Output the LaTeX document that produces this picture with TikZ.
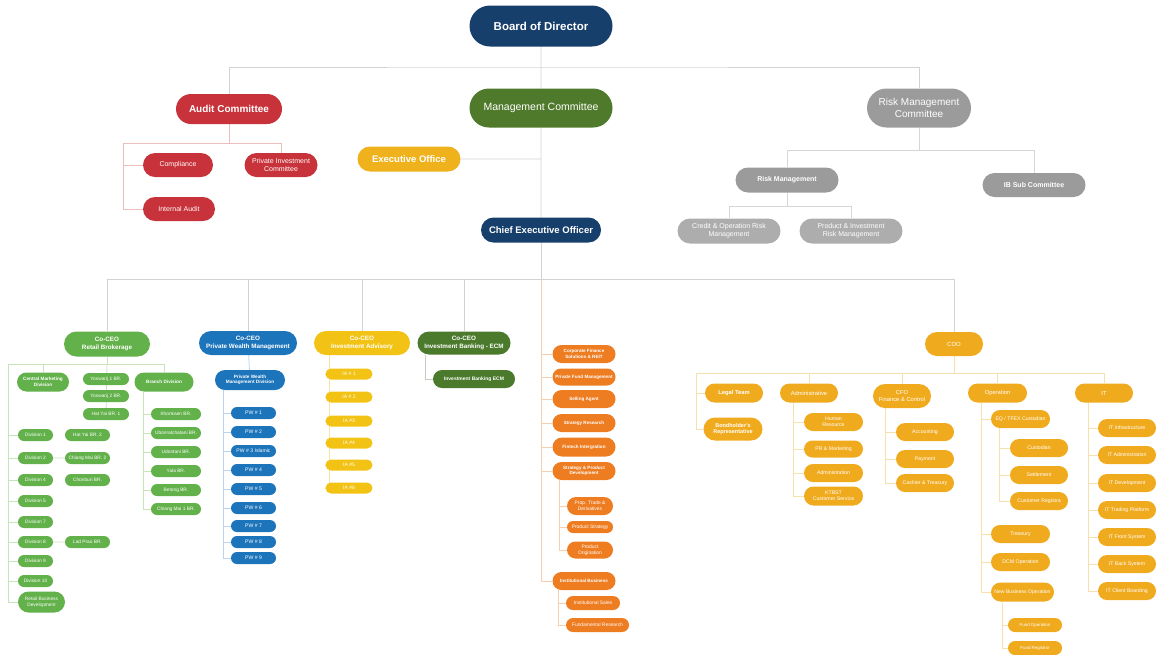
\documentclass[tikz,border=0pt]{standalone}
\usepackage{fontspec}
\setmainfont{Liberation Sans}
\usetikzlibrary{shapes.misc,backgrounds}
\definecolor{bodnavy}{HTML}{173F6C}
\definecolor{mcgreen}{HTML}{4F7A2B}
\definecolor{auditred}{HTML}{C8323A}
\definecolor{riskgray}{HTML}{9B9B9B}
\definecolor{risklight}{HTML}{ADADAD}
\definecolor{execyel}{HTML}{F0B21C}
\definecolor{rbgreen}{HTML}{62B14A}
\definecolor{pwblue}{HTML}{1C74BB}
\definecolor{iayel}{HTML}{F2C314}
\definecolor{ibgreen}{HTML}{4B7A2C}
\definecolor{strorange}{HTML}{EE7D22}
\definecolor{cooyel}{HTML}{F0AA1E}
\definecolor{lngray}{HTML}{D2D2D2}
\definecolor{adtint}{HTML}{EBBDBD}
\definecolor{rktint}{HTML}{D6D6D6}
\definecolor{rbtint}{HTML}{C8E4BB}
\definecolor{pwtint}{HTML}{BAD4EE}
\definecolor{iatint}{HTML}{F8E4A2}
\definecolor{ibtint}{HTML}{C6CDBE}
\definecolor{ortint}{HTML}{F6CFAE}
\definecolor{cotint}{HTML}{F6E0AE}
\tikzset{
  pill/.style={rounded rectangle, fill=#1, text=white, inner sep=0pt, align=center},
  sz/.style 2 args={minimum width=#1pt, minimum height=#2pt},
  fnt/.style 2 args={font=\fontsize{#1}{#2}\selectfont},
  fntb/.style 2 args={font=\fontsize{#1}{#2}\selectfont\bfseries},
  link/.style={draw=#1, line width=0.8pt},
}
\begin{document}
\begin{tikzpicture}[x=1pt, y=-1pt]
\useasboundingbox (0,0) rectangle (1156,654);
% board and committees
\node[pill=bodnavy, sz={143}{41}, fntb={11.5}{13}] (bod) at (541,26) {Board of Director};
\node[pill=mcgreen, sz={143}{39}, fnt={10.5}{12}] (mc) at (541,108) {Management Committee};
\node[pill=auditred, sz={106}{30}, fntb={10}{12}] (ac) at (229,109) {Audit Committee};
\node[pill=riskgray, sz={104}{39}, fnt={10}{12}] (rmc) at (919,108) {Risk Management\\Committee};
\node[pill=auditred, sz={70}{24}, fnt={7}{8}] (comp) at (178,165) {Compliance};
\node[pill=auditred, sz={73}{24}, fnt={7}{8}] (pic) at (281,165) {Private Investment\\Committee};
\node[pill=auditred, sz={72}{24}, fnt={7}{8}] (intaudit) at (179,209) {Internal Audit};
\node[pill=execyel, sz={103}{25}, fntb={9.5}{11}] (eo) at (409,159) {Executive Office};
\node[pill=bodnavy, sz={120}{25}, fntb={9.5}{11}] (ceo) at (541,230) {Chief Executive Officer};
\node[pill=riskgray, sz={103}{25}, fntb={7}{8}] (rm) at (787,180) {Risk Management};
\node[pill=riskgray, sz={103}{24}, fntb={7}{8}] (ibsc) at (1034,185) {IB Sub Committee};
\node[pill=risklight, sz={103}{25}, fnt={7}{8}] (corm) at (729,231) {Credit \& Operation Risk\\Management};
\node[pill=risklight, sz={103}{25}, fnt={7}{8}] (pirm) at (851,231) {Product \& Investment\\Risk Management};
\coordinate (cbus) at (541,279);

% retail brokerage
\node[pill=rbgreen, sz={86}{25}, fntb={6.3}{7.3}] (rb) at (107,344) {Co-CEO\\Retail Brokerage};
\node[pill=rbgreen, sz={52}{19}, fntb={4.7}{5.5}] (cmd) at (43,382) {Central Marketing\\Division};
\node[pill=rbgreen, sz={59}{19}, fntb={4.7}{5.5}] (brd) at (164,382) {Branch Division};
\foreach \n/\y/\t in {ys1/379/Yoswarij 1 BR., ys2/396/Yoswarij 2 BR., hy1/414/Hat Yai BR. 1}
  \node[pill=rbgreen, sz={46}{12}, fnt={4.8}{5.3}] (\n) at (106,\y) {\t};
\foreach \n/\y/\t in {dv1/435/Division 1, dv2/458/Division 2, dv4/480/Division 4, dv5/501/Division 5,
    dv7/522/Division 7, dv8/542/Division 8, dv9/561/Division 9, dv10/581/Division 10}
  \node[pill=rbgreen, sz={35}{12}, fnt={4.8}{5.3}] (\n) at (35.5,\y) {\t};
\node[pill=rbgreen, sz={47}{21}, fnt={4.8}{5.6}] (rbd) at (41.5,602) {Retail Business\\Development};
\foreach \n/\y/\t in {hy2/435/Hat Yai BR. 2, cm2/458/Chiang Mai BR. 2, chb/480/Chonburi BR., lp/542/Lad Prao BR.}
  \node[pill=rbgreen, sz={45}{12}, fnt={4.8}{5.3}] (\n) at (87.5,\y) {\t};
\foreach \n/\y/\t in {kk/414/Khonkaen BR., ub/433/Ubonratchatani BR., ud/452/Udontani BR., yl/471/Yala BR.,
    bt/490/Betong BR., cm1/509/Chiang Mai 1 BR.}
  \node[pill=rbgreen, sz={50}{12}, fnt={4.8}{5.3}] (\n) at (176,\y) {\t};

% private wealth management
\node[pill=pwblue, sz={98}{24}, fntb={6.3}{7.3}] (pwm) at (248,343) {Co-CEO\\Private Wealth Management};
\node[pill=pwblue, sz={70}{20}, fntb={4.7}{5.5}] (pwmd) at (250,380) {Private Wealth\\Management Division};
\foreach \n/\y/\t in {pw1/413/PW \# 1, pw2/432/PW \# 2, pw3/451/PW \# 3 Islamic, pw4/470/PW \# 4, pw5/489/PW \# 5,
    pw6/508/PW \# 6, pw7/526/PW \# 7, pw8/542/PW \# 8, pw9/558/PW \# 9}
  \node[pill=pwblue, sz={45}{12}, fnt={5.1}{5.6}] (\n) at (253.5,\y) {\t};

% investment advisory
\node[pill=iayel, sz={96}{24}, fntb={6.3}{7.3}] (iadv) at (362,343) {Co-CEO\\Investment Advisory};
\foreach \n/\y/\t in {ia1/374/IA \# 1, ia2/397/IA \# 2, ia3/421/IA \#3, ia4/443/IA \#4, ia5/465/IA \#5, ia6/488/IA \#6}
  \node[pill=iayel, sz={47}{11}, fnt={5}{5.5}] (\n) at (349,\y) {\t};

% investment banking
\node[pill=ibgreen, sz={93}{23}, fntb={6.3}{7.3}] (ibk) at (464,343) {Co-CEO\\Investment Banking - ECM};
\node[pill=ibgreen, sz={82}{18}, fntb={5}{6}] (ibecm) at (474,379) {Investment Banking ECM};

% strategy column
\foreach \n/\y/\h/\t in {cfs/354/18/Corporate Finance\\Solutions \& REIT, pfm/377/17/Private Fund Management,
    sa/399/18/Selling Agent, sr/423/18/Strategy Research, fi/447/19/Fintech Intergration,
    spd/471/18/Strategy \& Product\\Development, inst/581/18/Institutional Business}
  \node[pill=strorange, sz={63}{\h}, fntb={4.6}{5.4}] (\n) at (584,\y) {\t};
\node[pill=strorange, sz={46}{18}, fnt={4.9}{5.6}] (ptd) at (590,506) {Prop. Trade \&\\Derivatives};
\node[pill=strorange, sz={46}{12}, fnt={4.9}{5.6}] (ps) at (590,527) {Product Strategy};
\node[pill=strorange, sz={46}{17}, fnt={4.9}{5.6}] (po) at (590,550) {Product\\Origination};
\node[pill=strorange, sz={54}{14}, fnt={4.9}{5.6}] (isl) at (593,603) {Institutional Sales};
\node[pill=strorange, sz={63}{14}, fnt={4.9}{5.6}] (fr) at (597.5,625) {Fundamental Research};

% coo
\node[pill=cooyel, sz={58}{24}, fnt={6}{7}] (coo) at (954,344) {COO};
\node[pill=cooyel, sz={58}{19}, fntb={5.8}{6.6}] (legal) at (734,393) {Legal Team};
\node[pill=cooyel, sz={59}{23}, fntb={5.5}{6.5}] (bond) at (733,429) {Bondholder's\\Representative};
\node[pill=cooyel, sz={58}{19}, fnt={5.8}{6.6}] (adm) at (809,393) {Administrative};
\node[pill=cooyel, sz={58}{24}, fnt={5.8}{6.6}] (cfo) at (902,396) {CFO\\Finance \& Control};
\node[pill=cooyel, sz={59}{19}, fnt={5.8}{6.6}] (op) at (997.5,393) {Operation};
\node[pill=cooyel, sz={58}{19}, fnt={5.8}{6.6}] (it) at (1104,393) {IT};
\foreach \n/\y/\h/\t in {hr/422/18/Human\\Resource, prm/449/17/PR \& Marketing, admn/473/18/Administration,
    ktb/496/19/KTBST\\Customer Service}
  \node[pill=cooyel, sz={59}{\h}, fnt={5.2}{6}] (\n) at (833.5,\y) {\t};
\foreach \n/\y/\t in {acc/432/Accounting, pay/459/Payment, cash/483/Cashier \& Treasury}
  \node[pill=cooyel, sz={58}{18}, fnt={5.2}{6}] (\n) at (925,\y) {\t};
\foreach \n/\y/\t in {eq/419/{EQ / TFEX Custodian}, tre/534/Treasury, dcm/562/DCM Operation}
  \node[pill=cooyel, sz={59}{18}, fnt={5.2}{6}] (\n) at (1020.5,\y) {\t};
\node[pill=cooyel, sz={63}{19}, fnt={5.1}{6}] (nbo) at (1022.5,592) {New Business Operation};
\foreach \n/\y/\t in {cus/448/Custodian, stl/475/Settlement, creg/501/Customer Registra}
  \node[pill=cooyel, sz={58}{18}, fnt={5.2}{6}] (\n) at (1039,\y) {\t};
\foreach \n/\y/\t in {fop/625/Fund Operation, freg/648/Fund Registrar}
  \node[pill=cooyel, sz={54}{14}, fnt={4.4}{5}] (\n) at (1035,\y) {\t};
\foreach \n/\y/\t in {it1/428/IT Infrastructure, it2/455/IT Administration, it3/483/IT Development,
    it4/510/IT Trading Platform, it5/537/IT Front System, it6/564/IT Back System, it7/591/IT Client Boarding}
  \node[pill=cooyel, sz={58}{18}, fnt={5.2}{6}] (\n) at (1127,\y) {\t};

% connectors
\begin{scope}[on background layer]
\draw[link=lngray] (bod) -- (mc) (mc) -- (ceo) (eo) -- (eo -| mc);
\draw[link=lngray] (ac) |- (541,67) -| (rmc);
\draw[link=lngray] (ceo) -- (cbus);
\foreach \n in {rb,pwm,iadv,ibk,coo}
  \draw[link=lngray] (cbus) -| (\n);
% audit
\draw[link=adtint] (ac) -- (229,143) -| (pic);
\draw[link=adtint] (229,143) -| (123,209) -- (intaudit);
\draw[link=adtint] (123,165) -- (comp);
% risk
\draw[link=rktint] (rmc) -- (919,150) -| (rm);
\draw[link=rktint] (919,150) -| (ibsc);
\draw[link=rktint] (rm) -- (787,206) -| (corm);
\draw[link=rktint] (787,206) -| (pirm);
% retail
\coordinate (gl) at (8,364);
\draw[link=rbtint] (rb) -- (107,364) -| (cmd);
\draw[link=rbtint] (107,364) -| (brd);
\draw[link=rbtint] (107,364) -- (gl) |- (rbd);
\draw[link=rbtint] (107,364) -- (hy1);
\foreach \n in {dv1,dv2,dv4,dv5,dv7,dv8,dv9,dv10}
  \draw[link=rbtint] (gl |- \n) -- (\n);
\draw[link=rbtint] (dv2) -- (cm2) (dv8) -- (lp);
\draw[link=rbtint] (brd.south -| 143,0) |- (cm1);
\foreach \n in {kk,ub,ud,yl,bt}
  \draw[link=rbtint] (143,0 |- \n) -- (\n);
% private wealth
\draw[link=pwtint] (pwm) -- (pwmd);
\draw[link=pwtint] (pwmd.south -| 223,0) |- (pw9);
\foreach \n in {pw1,pw2,pw3,pw4,pw5,pw6,pw7,pw8}
  \draw[link=pwtint] (223,0 |- \n) -- (\n);
% advisory and banking
\draw[link=iatint] (iadv.south -| 329,0) |- (ia6);
\foreach \n in {ia1,ia2,ia3,ia4,ia5}
  \draw[link=iatint] (329,0 |- \n) -- (\n);
\draw[link=ibtint] (ibk.south -| 425,0) |- (ibecm);
% strategy
\draw[link=ortint] (cbus) |- (inst);
\foreach \n in {cfs,pfm,sa,sr,fi,spd}
  \draw[link=ortint] (cbus |- \n) -- (\n);
\draw[link=ortint] (spd.south -| 559,0) |- (po) (559,0 |- ptd) -- (ptd) (559,0 |- ps) -- (ps);
\draw[link=ortint] (inst.south -| 558,0) |- (fr) (558,0 |- isl) -- (isl);
% coo
\draw[link=cotint] (coo) -- (954,373) -| (it);
\draw[link=cotint] (954,373) -| (696,429) -- (bond);
\draw[link=cotint] (696,393) -- (legal);
\foreach \n in {adm,cfo,op}
  \draw[link=cotint] (954,373) -| (\n);
\draw[link=cotint] (adm.south -| 793,0) |- (ktb);
\foreach \n in {hr,prm,admn}
  \draw[link=cotint] (793,0 |- \n) -- (\n);
\draw[link=cotint] (cfo.south -| 885,0) |- (cash);
\foreach \n in {acc,pay}
  \draw[link=cotint] (885,0 |- \n) -- (\n);
\draw[link=cotint] (op.south -| 981,0) |- (nbo);
\foreach \n in {eq,tre,dcm}
  \draw[link=cotint] (981,0 |- \n) -- (\n);
\draw[link=cotint] (eq.south -| 999,0) |- (creg);
\foreach \n in {cus,stl}
  \draw[link=cotint] (999,0 |- \n) -- (\n);
\draw[link=cotint] (nbo.south -| 1002,0) |- (freg) (1002,0 |- fop) -- (fop);
\draw[link=cotint] (it.south -| 1088,0) |- (it7);
\foreach \n in {it1,it2,it3,it4,it5,it6}
  \draw[link=cotint] (1088,0 |- \n) -- (\n);
\end{scope}
\end{tikzpicture}
\end{document}
